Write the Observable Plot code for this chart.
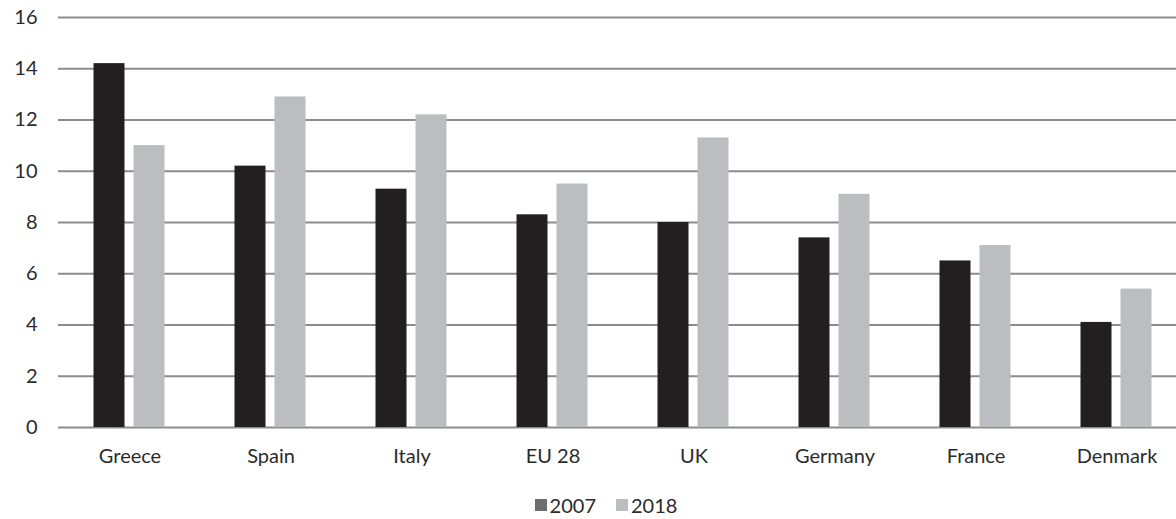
<!DOCTYPE html>
<html>
<head>
<meta charset="utf-8">
<script src="https://cdn.jsdelivr.net/npm/d3@7"></script>
<script src="https://cdn.jsdelivr.net/npm/@observablehq/plot@0.6"></script>
<style>
  html, body { margin: 0; padding: 0; background: #fff; }
  body { width: 1176px; font-family: Lato, "Open Sans", sans-serif; color: #2b2b2b; }
  #legend { display: flex; justify-content: center; align-items: center; gap: 20px; margin-top: 13px; font-size: 20px; line-height: 24px; padding-left: 36px; }
  #legend span.item { display: inline-flex; align-items: center; gap: 3px; }
  #legend span.sw { display: inline-block; width: 12px; height: 12px; }
</style>
</head>
<body>
<div id="chart"></div>
<div id="legend"></div>
<script>
// Countries in display order
const countries = ["Greece", "Spain", "Italy", "EU 28", "UK", "Germany", "France", "Denmark"];
// Values per year
const values2007 = [14.2, 10.2, 9.3, 8.3, 8.0, 7.4, 6.5, 4.1];
const values2018 = [11.0, 12.9, 12.2, 9.5, 11.3, 9.1, 7.1, 5.4];
const years = ["2007", "2018"];
const yTicks = [0, 2, 4, 6, 8, 10, 12, 14, 16];

const barColor = {"2007": "#231f20", "2018": "#bcbdc0"};
const swatchColor = {"2007": "#6e6e6e", "2018": "#bcbdc0"};

const rows2007 = countries.map((c, i) => ({country: c, value: values2007[i]}));
const rows2018 = countries.map((c, i) => ({country: c, value: values2018[i]}));

const chart = Plot.plot({
  width: 1176,
  height: 480,
  marginTop: 17,
  marginBottom: 53,
  marginLeft: 58,
  marginRight: 0,
  style: {fontFamily: "Lato, 'Open Sans', sans-serif", fontSize: "20px", color: "#2b2b2b", background: "#fff"},
  x: {type: "band", domain: countries, range: [58.5, 1187], padding: 0, label: null},
  y: {domain: [0, 16], label: null},
  marks: [
    Plot.ruleY(yTicks, {stroke: "#8c8c8c", strokeWidth: 2}),
    Plot.barY(rows2007, {x: "country", y: "value", fill: barColor["2007"], insetLeft: 34.5, insetRight: 75.5}),
    Plot.barY(rows2018, {x: "country", y: "value", fill: barColor["2018"], insetLeft: 74.5, insetRight: 35.5}),
    Plot.axisY(yTicks, {tickSize: 0, tickPadding: 21, fontSize: 20, fill: "#2b2b2b", label: null}),
    Plot.axisX({tickSize: 0, tickPadding: 21, fontSize: 20, fill: "#2b2b2b", label: null})
  ]
});
document.getElementById("chart").appendChild(chart);

const legend = d3.select("#legend");
years.forEach(y => {
  const item = legend.append("span").attr("class", "item");
  item.append("span").attr("class", "sw").style("background", swatchColor[y]);
  item.append("span").text(y);
});
</script>
</body>
</html>
